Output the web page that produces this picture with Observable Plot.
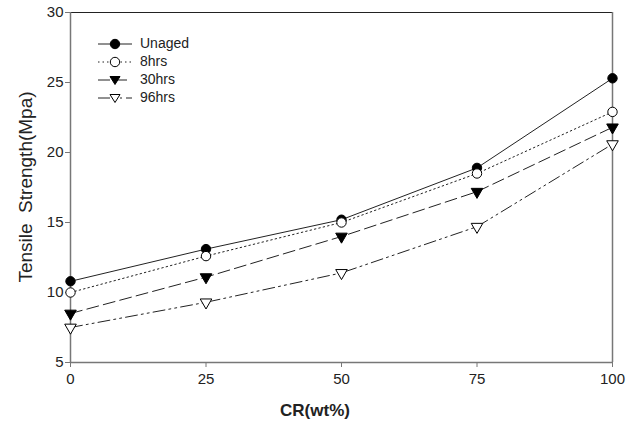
<!DOCTYPE html>
<html><head><meta charset="utf-8">
<script src="https://cdn.jsdelivr.net/npm/d3@7"></script>
<script src="https://cdn.jsdelivr.net/npm/@observablehq/plot@0.6"></script>
<style>
body{margin:0;background:#fff;font-family:"Liberation Sans",Arial,sans-serif;}
#wrap{position:relative;width:635px;height:423px;}
#legend{position:absolute;left:96px;top:34px;}
</style></head><body>
<div id="wrap"><div id="chart"></div><svg id="legend" width="140" height="80"></svg></div>
<script>
const cr = [0, 25, 50, 75, 100];
const seriesNames = ["Unaged", "8hrs", "30hrs", "96hrs"];
const unaged = [10.8, 13.1, 15.2, 18.9, 25.3];
const hrs8 = [10.0, 12.6, 15.0, 18.5, 22.9];
const hrs30 = [8.5, 11.1, 14.0, 17.2, 21.8];
const hrs96 = [7.5, 9.3, 11.4, 14.7, 20.6];
const xTicks = [0, 25, 50, 75, 100];
const yTicks = [5, 10, 15, 20, 25, 30];

const styles = {
  "Unaged": {dash: null, symbol: "circle", fill: "black", rotate: 0},
  "8hrs": {dash: "1.5,3", symbol: "circle", fill: "white", rotate: 0},
  "30hrs": {dash: "12,5", symbol: "triangle", fill: "black", rotate: 180},
  "96hrs": {dash: "12,4,2,4,2,4", symbol: "triangle", fill: "white", rotate: 180}
};
const vals = [unaged, hrs8, hrs30, hrs96];
const data = [];
seriesNames.forEach((s, i) => cr.forEach((x, j) => data.push({series: s, x, y: vals[i][j]})));

const marks = [];
for (const s of seriesNames) {
  const d = data.filter(r => r.series === s);
  const st = styles[s];
  marks.push(Plot.line(d, {x: "x", y: "y", stroke: "#222", strokeWidth: 1, strokeDasharray: st.dash}));
}
for (const s of seriesNames) {
  const d = data.filter(r => r.series === s);
  const st = styles[s];
  marks.push(Plot.dot(d, {x: "x", y: "y", symbol: st.symbol, r: st.symbol === "circle" ? 4.7 : 4.3, rotate: st.rotate, fill: st.fill, stroke: "black", strokeWidth: 1}));
}

const chart = Plot.plot({
  width: 635, height: 423,
  marginLeft: 70, marginRight: 23, marginTop: 12, marginBottom: 61,
  style: {fontFamily: "Liberation Sans, Arial, sans-serif", fontSize: "14px", color: "#222", background: "white"},
  x: {domain: [0, 100], ticks: xTicks, label: null},
  y: {domain: [5, 30], ticks: yTicks, label: null},
  marks: [
    Plot.ruleY([30], {stroke: "#222", strokeWidth: 1.2}),
    Plot.ruleX([100], {stroke: "#777", strokeWidth: 1.5}),
    Plot.ruleX([0], {stroke: "#777", strokeWidth: 1.5}),
    Plot.ruleY([5], {stroke: "#777", strokeWidth: 1.5}),
    Plot.axisX({ticks: xTicks, tickSize: 5, tickPadding: 6, stroke: "#777", label: null, fontSize: 15}),
    Plot.axisY({ticks: yTicks, tickSize: 5, tickPadding: 2, stroke: "#777", label: null, fontSize: 15}),
    ...marks
  ]
});
document.getElementById("chart").appendChild(chart);

const svg = d3.select(chart);
svg.append("text").attr("transform", "translate(27,187) rotate(-90)")
  .attr("text-anchor", "middle").attr("font-size", 19).attr("fill", "#222")
  .attr("font-family", "Liberation Sans, Arial, sans-serif").attr("dominant-baseline", "middle")
  .text("Tensile  Strength(Mpa)");
svg.append("text").attr("x", 315).attr("y", 416)
  .attr("text-anchor", "middle").attr("font-size", 17).attr("font-weight", "bold").attr("fill", "#222")
  .attr("font-family", "Liberation Sans, Arial, sans-serif")
  .text("CR(wt%)");

// legend
const lg = d3.select("#legend");
seriesNames.forEach((s, i) => {
  const st = styles[s];
  const y = 10 + i * 18;
  lg.append("line").attr("x1", 2).attr("x2", 36).attr("y1", y).attr("y2", y)
    .attr("stroke", "#222").attr("stroke-dasharray", st.dash || null);
  const cx = 19;
  if (st.symbol === "circle") {
    lg.append("circle").attr("cx", cx).attr("cy", y).attr("r", 4.7).attr("fill", st.fill).attr("stroke", "black");
  } else {
    lg.append("path").attr("d", `M${cx-5},${y-3.5}L${cx+5},${y-3.5}L${cx},${y+4.5}Z`).attr("fill", st.fill).attr("stroke", "black");
  }
  lg.append("text").attr("x", 44).attr("y", y).attr("dominant-baseline", "middle")
    .attr("font-size", 14).attr("fill", "#222").attr("font-family", "Liberation Sans, Arial, sans-serif").text(s);
});
</script>
</body></html>
